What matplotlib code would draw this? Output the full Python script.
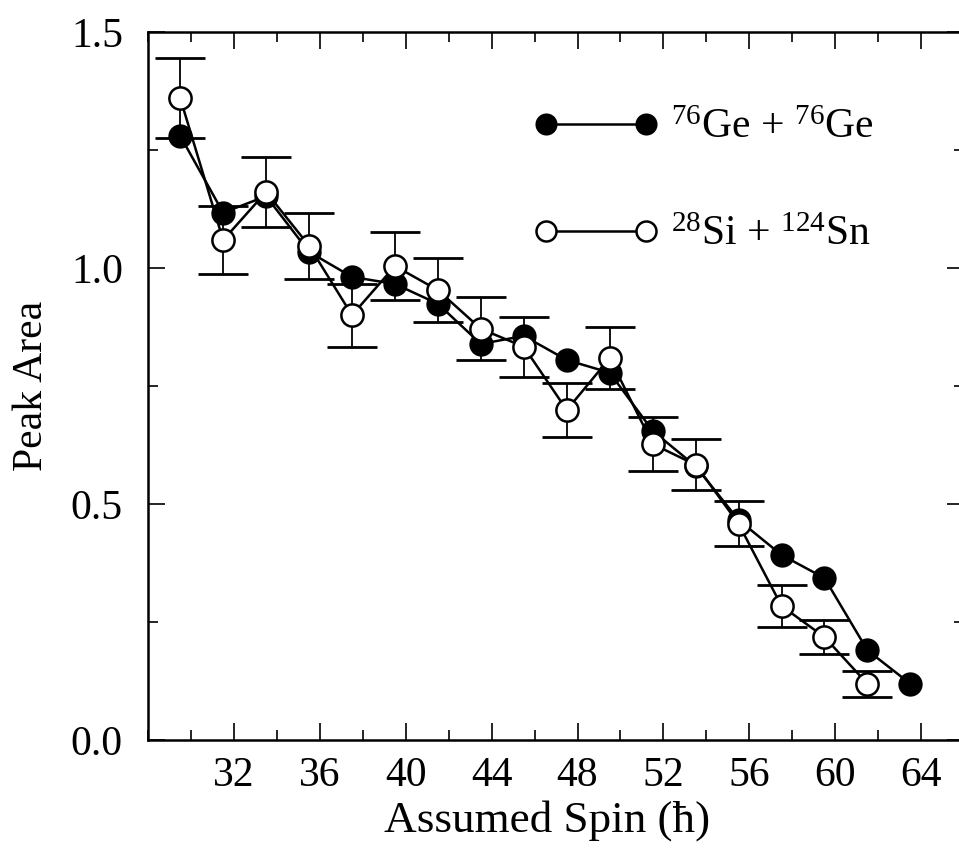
import numpy as np
import matplotlib.pyplot as plt
from matplotlib.ticker import MultipleLocator

plt.rcParams['font.family'] = ['Liberation Serif', 'DejaVu Serif']
plt.rcParams['mathtext.fontset'] = 'custom'
plt.rcParams['mathtext.rm'] = 'Liberation Serif'
plt.rcParams['mathtext.it'] = 'Liberation Serif:italic'

# spin values (hbar)
spin_ge = [29.5, 31.5, 33.5, 35.5, 37.5, 39.5, 41.5, 43.5, 45.5, 47.5,
           49.5, 51.5, 53.5, 55.5, 57.5, 59.5, 61.5, 63.5]
area_ge = [1.28, 1.117, 1.152, 1.034, 0.981, 0.966, 0.924, 0.839, 0.856, 0.805,
           0.778, 0.655, 0.58, 0.466, 0.392, 0.343, 0.19, 0.119]

spin_sn = [29.5, 31.5, 33.5, 35.5, 37.5, 39.5, 41.5, 43.5, 45.5, 47.5,
           49.5, 51.5, 53.5, 55.5, 57.5, 59.5, 61.5]
area_sn = [1.36, 1.059, 1.161, 1.047, 0.90, 1.004, 0.953, 0.871, 0.833, 0.699,
           0.809, 0.627, 0.583, 0.458, 0.284, 0.218, 0.119]
err_sn = [0.085, 0.072, 0.075, 0.07, 0.067, 0.072, 0.068, 0.067, 0.064, 0.058,
          0.065, 0.058, 0.054, 0.048, 0.045, 0.036, 0.027]

fig = plt.figure(figsize=(9.59, 8.49), dpi=100)
ax = fig.add_axes([0.1543, 0.1284, 0.851, 0.834])

ax.errorbar(spin_sn, area_sn, yerr=err_sn, fmt='none', ecolor='black',
            elinewidth=1.3, capsize=18, capthick=2, zorder=2)
ax.plot(spin_ge, area_ge, '-o', color='black', lw=1.8, ms=16,
        mfc='black', mec='black', mew=1.5, zorder=3,
        label=r'$^{76}$Ge + $^{76}$Ge')
ax.plot(spin_sn, area_sn, '-o', color='black', lw=1.8, ms=16,
        mfc='white', mec='black', mew=1.8, zorder=4,
        label=r'$^{28}$Si + $^{124}$Sn')

ax.set_xlim(28, 66)
ax.set_ylim(0, 1.5)
ax.xaxis.set_major_locator(MultipleLocator(4))
ax.xaxis.set_minor_locator(MultipleLocator(2))
ax.yaxis.set_major_locator(MultipleLocator(0.5))
ax.yaxis.set_minor_locator(MultipleLocator(0.25))
ax.set_xticks([32, 36, 40, 44, 48, 52, 56, 60, 64])
ax.yaxis.set_major_formatter(plt.FormatStrFormatter('%.1f'))
ax.tick_params(which='both', direction='in', top=True, right=True,
               labelsize=30, width=1.2)
ax.tick_params(axis='x', which='major', pad=12)
ax.tick_params(axis='y', which='major', pad=18)
ax.tick_params(which='major', length=12)
ax.tick_params(which='minor', length=7)
for s in ax.spines.values():
    s.set_linewidth(1.8)

ax.set_xlabel('Assumed Spin (ħ)', fontsize=32.5, labelpad=4)
ax.xaxis.set_label_coords(0.489, -0.085)
ax.set_ylabel('Peak Area', fontsize=30, labelpad=14)

leg = ax.legend(loc='upper left', bbox_to_anchor=(0.452, 0.915), frameon=False,
                numpoints=2, handlelength=3.0, handletextpad=0.3,
                labelspacing=1.64, fontsize=30, borderaxespad=0,
                markerscale=0.9)

fig.savefig('out.png', dpi=100)
